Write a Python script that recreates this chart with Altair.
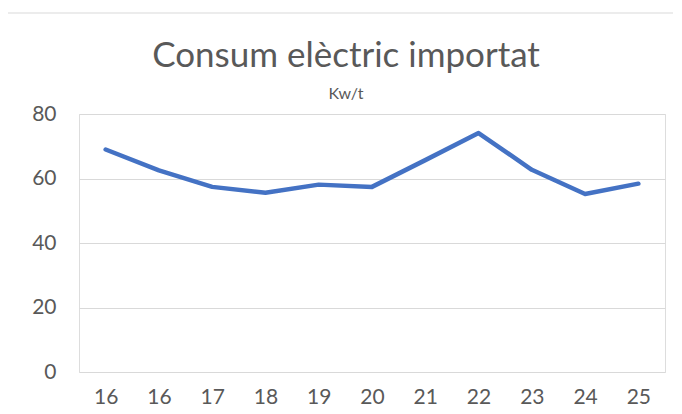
import altair as alt
import pandas as pd

labels = ["16", "16", "17", "18", "19", "20", "21", "22", "23", "24", "25"]
values = [69.0, 62.5, 57.4, 55.6, 58.1, 57.4, 65.7, 74.1, 62.7, 55.2, 58.4]

df = pd.DataFrame({"idx": list(range(len(labels))), "label": labels, "value": values})

label_expr = "[" + ",".join("'" + l + "'" for l in labels) + "][datum.value]"

FONT = "Lato"
GREY = "#595959"

line = alt.Chart(df).mark_line(color="#4472C4", strokeWidth=4.5, strokeCap="round", strokeJoin="round").encode(
    x=alt.X("idx:O", axis=alt.Axis(title=None, labelExpr=label_expr, labelAngle=0, ticks=False,
                                   domain=False, labelPadding=14, labelFontSize=21, labelColor=GREY,
                                   labelFont=FONT, grid=False)),
    y=alt.Y("value:Q", scale=alt.Scale(domain=[0, 80], nice=False),
            axis=alt.Axis(title=None, values=[0, 20, 40, 60, 80], ticks=False, domain=False,
                          labelPadding=23, labelFontSize=21, labelColor=GREY, labelFont=FONT,
                          gridColor="#D9D9D9", gridWidth=1.2)),
)

border = alt.Chart(pd.DataFrame({"a": [0]})).mark_rect(fill="transparent", stroke="#D9D9D9", strokeWidth=1.2).encode(
    x=alt.value(-72), x2=alt.value(640), y=alt.value(-101), y2=alt.value(340)
)

chart = alt.layer(border, line).properties(
    width=586,
    height=258,
    autosize=alt.AutoSizeParams(type="none"),
    padding={"left": 71, "top": 106, "right": 8, "bottom": 40},
    title=alt.TitleParams(
        text="Consum elèctric importat",
        subtitle="Kw/t",
        anchor="middle",
        frame="group",
        font=FONT,
        fontSize=35,
        fontWeight="normal",
        color=GREY,
        subtitleFont=FONT,
        subtitleFontSize=16,
        subtitleColor=GREY,
        subtitlePadding=12,
        offset=0,
        dy=90,
        dx=-26,
    ),
).configure_view(stroke="transparent", strokeWidth=0).configure(background="white")

chart.save("out.html", embed_options={"renderer": "svg", "actions": False})
